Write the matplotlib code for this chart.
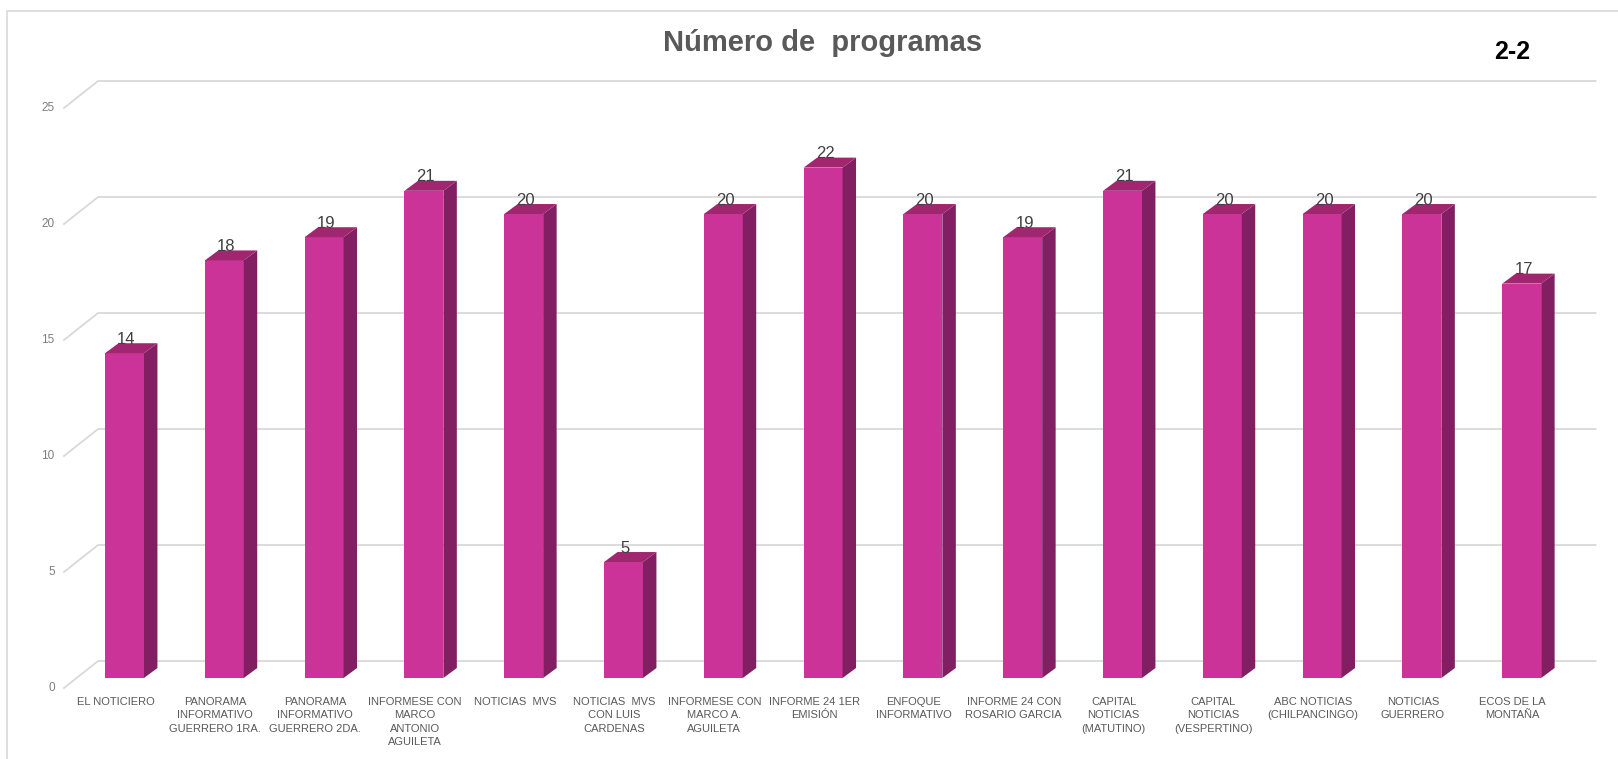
import matplotlib
matplotlib.use("Agg")
import matplotlib.pyplot as plt
from matplotlib.patches import Polygon, Rectangle
from matplotlib import font_manager

# datos
programas = [
    "EL NOTICIERO",
    "PANORAMA\nINFORMATIVO\nGUERRERO 1RA.",
    "PANORAMA\nINFORMATIVO\nGUERRERO 2DA.",
    "INFORMESE CON\nMARCO\nANTONIO\nAGUILETA",
    "NOTICIAS  MVS",
    "NOTICIAS  MVS\nCON LUIS\nCARDENAS",
    "INFORMESE CON\nMARCO A.\nAGUILETA",
    "INFORME 24 1ER\nEMISIÓN",
    "ENFOQUE\nINFORMATIVO",
    "INFORME 24 CON\nROSARIO GARCIA",
    "CAPITAL\nNOTICIAS\n(MATUTINO)",
    "CAPITAL\nNOTICIAS\n(VESPERTINO)",
    "ABC NOTICIAS\n(CHILPANCINGO)",
    "NOTICIAS\nGUERRERO",
    "ECOS DE LA\nMONTAÑA",
]
numero = [14, 18, 19, 21, 20, 5, 20, 22, 20, 19, 21, 20, 20, 20, 17]
ticks = [0, 5, 10, 15, 20, 25]

# fuentes
nombres = {f.name for f in font_manager.fontManager.ttflist}
narrow = "Liberation Sans Narrow" if "Liberation Sans Narrow" in nombres else "Liberation Sans"

W, H = 1618, 759
fig = plt.figure(figsize=(W / 100, H / 100), dpi=100)

# ejes: 0 en y=678px, 25 en y=98px; categorias cada 99.8px desde 124.5px
ax = fig.add_axes([74.6 / W, (H - 678) / H, 1497 / W, 580 / H])
ax.set_xlim(-0.5, 14.5)
ax.set_ylim(0, 25)
ax.axis("off")

# perspectiva (en unidades de datos)
ddx, ddy = 0.135, 0.43     # profundidad de la barra
back = 0.733               # plano del fondo
front_x, back_x, end_x = -0.606, -0.265, 14.74
grid_c = "#d9d9d9"

for t in ticks:
    ax.plot([front_x, back_x, end_x], [t - 0.43, t + back, t + back],
            color=grid_c, lw=1.3, clip_on=False, zorder=1)
    ax.text(-0.70, t - 0.43, str(t), ha="right", va="center",
            fontsize=8.5, color="#7f7f7f", family=narrow)

w = 0.39
c_front, c_side, c_top = "#CC3399", "#821F62", "#A0266F"
x = list(range(len(numero)))
ax.bar(x, numero, width=w, color=c_front, zorder=3)

for i, v in zip(x, numero):
    r = i + w / 2
    l = i - w / 2
    ax.add_patch(Polygon([(r, 0), (r + ddx, ddy), (r + ddx, v + ddy), (r, v)],
                         closed=True, fc=c_side, ec="none", zorder=3))
    ax.add_patch(Polygon([(l, v), (r, v), (r + ddx, v + ddy), (l + ddx, v + ddy)],
                         closed=True, fc=c_top, ec="none", zorder=3))
    ax.text(i + 0.02, v + 0.6, str(v), ha="center", va="center",
            fontsize=12, color="#404040", family=narrow, zorder=4)

for i, lab in zip(x, programas):
    ax.text(i - 0.09, -0.8, lab, ha="center", va="top", fontsize=8,
            color="#595959", family=narrow, linespacing=1.45, clip_on=False)

# titulo
fig.text(823 / W, 1 - 43 / H, "Número de  programas", ha="center", va="center",
         fontsize=21, fontweight="bold", color="#595959", family=narrow)
fig.text(1512 / W, 1 - 52 / H, "2-2", ha="center", va="center",
         fontsize=18, fontweight="bold", color="black", family="Liberation Sans")

# borde
fig.add_artist(Rectangle((7 / W, -0.05), 1.2, 1 - 11 / H + 0.05,
                         transform=fig.transFigure, fill=False,
                         ec=grid_c, lw=1.2))

fig.savefig("out.png", dpi=100)
